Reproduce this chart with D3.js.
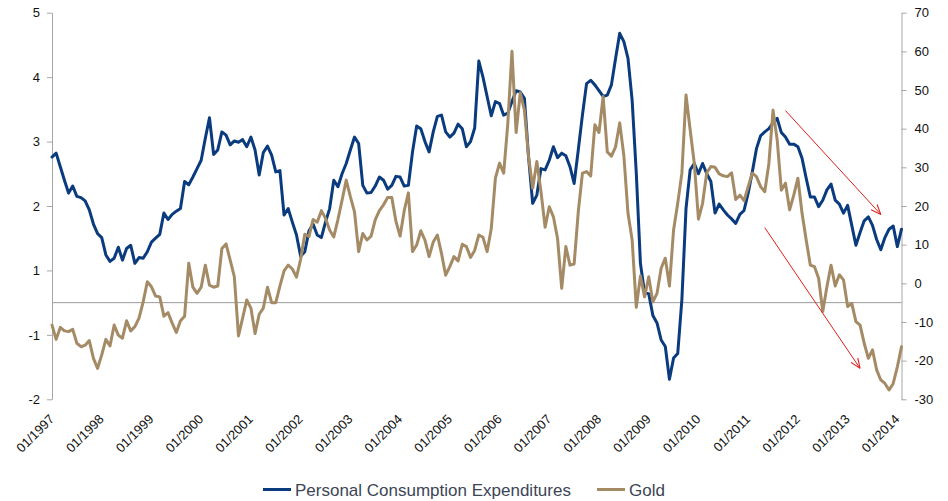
<!DOCTYPE html>
<html>
<head>
<meta charset="utf-8">
<script src="https://cdn.jsdelivr.net/npm/d3@7/dist/d3.min.js"></script>
<style>
  html, body { margin: 0; padding: 0; background: #fff; }
  svg { display: block; font-family: "Liberation Sans", Arial, sans-serif; }
</style>
</head>
<body>
<svg id="chart" width="948" height="501"></svg>
<script>
// ---------- DATA ----------
const startMonth = new Date(1997, 0, 1);
const endMonthExclusive = new Date(2014, 2, 1); // through Feb 2014
const months = d3.timeMonth.range(startMonth, endMonthExclusive);
const categories = months.map(d3.timeFormat("%m/%Y"));

const pce = [
  2.76, 2.82, 2.61, 2.40, 2.20, 2.31, 2.15, 2.13, 2.08, 1.94, 1.72, 1.57,
  1.51, 1.24, 1.14, 1.19, 1.36, 1.16, 1.34, 1.39, 1.11, 1.20, 1.19, 1.29,
  1.44, 1.50, 1.56, 1.89, 1.79, 1.87, 1.92, 1.96, 2.38, 2.33, 2.45, 2.58,
  2.71, 3.05, 3.37, 2.80, 2.87, 3.15, 3.10, 2.95, 3.01, 2.99, 3.03, 2.92,
  3.07, 2.87, 2.48, 2.83, 2.93, 2.79, 2.53, 2.55, 1.86, 1.96, 1.75, 1.55,
  1.22, 1.29, 1.61, 1.72, 1.55, 1.51, 1.75, 1.96, 2.40, 2.30, 2.50, 2.66,
  2.87, 3.07, 2.97, 2.32, 2.20, 2.21, 2.31, 2.45, 2.40, 2.26, 2.32, 2.46,
  2.45, 2.31, 2.32, 2.84, 3.24, 3.20, 3.00, 2.84, 3.15, 3.39, 3.41, 3.15,
  3.07, 3.13, 3.27, 3.20, 2.92, 3.00, 3.21, 4.25, 4.00, 3.70, 3.40, 3.62,
  3.59, 3.41, 3.44, 3.62, 3.79, 3.77, 3.67, 2.76, 2.04, 2.17, 2.58, 2.56,
  2.71, 2.92, 2.75, 2.82, 2.78, 2.61, 2.35, 2.87, 3.41, 3.90, 3.95, 3.88,
  3.79, 3.70, 3.72, 3.88, 4.29, 4.68, 4.55, 4.29, 3.64, 2.51, 1.11, 0.30,
  0.28, -0.40, -0.63, -1.08, -1.18, -1.69, -1.36, -1.29, 0.09, 1.96, 2.56, 2.66,
  2.50, 2.66, 2.50, 2.38, 1.89, 2.03, 1.94, 1.86, 1.80, 1.73, 1.87, 1.93,
  2.20, 2.53, 2.89, 3.09, 3.15, 3.20, 3.29, 3.36, 3.14, 3.07, 2.96, 2.96,
  2.92, 2.74, 2.43, 2.14, 2.14, 1.99, 2.09, 2.25, 2.34, 2.09, 2.03, 1.89,
  2.01, 1.70, 1.39, 1.59, 1.77, 1.83, 1.70, 1.48, 1.32, 1.51, 1.64, 1.69,
  1.37, 1.64
];

const gold = [
  -10.8, -14.5, -11.4, -12.3, -12.5, -11.9, -15.5, -16.4, -16.0, -14.8, -19.4, -22.0,
  -18.5, -14.5, -16.2, -10.8, -13.4, -14.2, -9.7, -12.3, -11.2, -9.0, -4.8, 0.4,
  -0.9, -3.3, -3.5, -8.5, -7.6, -10.3, -12.7, -9.7, -8.5, 5.2, -1.0, -2.6,
  -1.0, 4.7, -0.5, -1.0, -0.7, 9.0, 10.2, 6.0, 1.7, -13.6, -9.0, -4.3,
  -6.4, -13.0, -8.0, -6.4, -1.0, -5.0, -5.0, -0.7, 3.2, 4.7, 3.7, 1.6,
  6.2, 12.7, 12.1, 16.5, 15.8, 18.8, 16.8, 13.8, 12.0, 16.5, 21.5, 26.7,
  22.4, 18.5, 8.2, 12.9, 11.2, 12.2, 16.4, 18.8, 20.3, 22.2, 22.2, 16.0,
  12.2, 18.8, 23.4, 8.2, 9.9, 13.6, 11.2, 6.9, 10.7, 12.5, 7.7, 2.1,
  4.3, 6.9, 5.8, 10.1, 9.5, 6.7, 8.5, 12.5, 11.9, 8.2, 14.1, 27.2,
  31.1, 28.5, 41.4, 60.0, 39.0, 49.3, 44.8, 32.8, 24.6, 31.5, 23.7, 14.5,
  19.8, 17.2, 11.6, -1.3, 9.5, 4.7, 5.0, 18.5, 28.5, 28.9, 27.8, 41.0,
  39.0, 48.3, 34.0, 32.9, 35.3, 41.5, 33.0, 18.1, 11.2, -6.2, 1.9, -3.5,
  1.7, -4.8, -2.6, 3.9, 6.5, -0.7, 13.8, 20.7, 28.5, 48.7, 39.7, 31.0,
  16.6, 20.7, 28.6, 30.2, 30.0, 28.3, 27.8, 27.6, 28.6, 21.7, 22.8, 21.4,
  25.0, 28.5, 27.6, 25.0, 23.7, 31.0, 44.8, 37.1, 24.1, 25.9, 19.0, 22.8,
  27.2, 18.1, 11.2, 4.7, 4.3, 1.3, -7.3, -0.9, 4.7, -0.7, 2.2, 0.9,
  -6.0, -5.2, -9.9, -10.8, -15.5, -19.4, -17.2, -22.4, -25.0, -25.9, -27.6, -25.9,
  -21.6, -16.4
];

const xTickLabels = ["01/1997","01/1998","01/1999","01/2000","01/2001","01/2002",
  "01/2003","01/2004","01/2005","01/2006","01/2007","01/2008","01/2009",
  "01/2010","01/2011","01/2012","01/2013","01/2014"];
const leftTicks = [5, 4, 3, 2, 1, -1, -2];
const rightTicks = [70, 60, 50, 40, 30, 20, 10, 0, -10, -20, -30];
const seriesNames = ["Personal Consumption Expenditures", "Gold"];

// trend arrows: start/end as [category, value]
const arrowPce  = { from: ["10/2011", 3.48], to: ["09/2013", 1.87] };
const arrowGold = { from: ["05/2011", 14.4], to: ["04/2013", -22.0] };

// ---------- LAYOUT ----------
const svg = d3.select("#chart");
const plotLeft = 52, plotRight = 901.5, plotTop = 12.7, plotBottom = 399.3;
const step = (plotBottom - plotTop) / 6;
const colPce = "#0a3b7e", colGold = "#a58b65", axisCol = "#a6a6a6";

const x = d3.scalePoint().domain(categories).range([plotLeft, plotRight]);
// left axis as drawn: -2, -1, (0 midway), 1 ... 5 evenly spaced labels
const yL = d3.scaleLinear().domain([-2, -1, 1, 5])
  .range([plotBottom, plotBottom - step, plotBottom - 2 * step, plotTop]);
const yR = d3.scaleLinear().domain([-30, 70]).range([plotBottom, plotTop]);

// zero line
svg.append("line")
  .attr("x1", plotLeft).attr("x2", plotRight)
  .attr("y1", yL(0)).attr("y2", yL(0))
  .attr("stroke", "#9a9a9a").attr("stroke-width", 1);

const fmt = d => String(d);
// left axis
const gL = svg.append("g").attr("transform", `translate(${plotLeft},0)`)
  .call(d3.axisLeft(yL).tickValues(leftTicks).tickFormat(fmt)
    .tickSize(5).tickSizeOuter(0).tickPadding(7));
// right axis
const gR = svg.append("g").attr("transform", `translate(${plotRight},0)`)
  .call(d3.axisRight(yR).tickValues(rightTicks).tickFormat(fmt)
    .tickSize(5).tickSizeOuter(0).tickPadding(8));
[gL, gR].forEach(g => {
  g.select(".domain").attr("stroke", axisCol);
  g.selectAll(".tick line").attr("stroke", axisCol);
  g.selectAll(".tick text").attr("fill", "#111").style("font-size", "13px")
    .style("font-family", '"Liberation Sans", Arial, sans-serif');
});

// x labels
svg.append("g").selectAll("text").data(xTickLabels).join("text")
  .attr("transform", d => `translate(${x(d) + 3},420) rotate(-45)`)
  .attr("text-anchor", "end")
  .attr("fill", "#111")
  .style("font-size", "13px")
  .text(d => d);

// lines
const linePce = d3.line().x((d, i) => x(categories[i])).y(d => yL(d));
const lineGold = d3.line().x((d, i) => x(categories[i])).y(d => yR(d));

svg.append("path").datum(pce)
  .attr("d", linePce).attr("fill", "none")
  .attr("stroke", colPce).attr("stroke-width", 3)
  .attr("stroke-linejoin", "round").attr("stroke-linecap", "round");
svg.append("path").datum(gold)
  .attr("d", lineGold).attr("fill", "none")
  .attr("stroke", colGold).attr("stroke-width", 3)
  .attr("stroke-linejoin", "round").attr("stroke-linecap", "round");

// arrows
svg.append("defs").append("marker")
  .attr("id", "arrowhead").attr("viewBox", "0 0 10 10")
  .attr("refX", 10).attr("refY", 5)
  .attr("markerWidth", 10).attr("markerHeight", 10)
  .attr("markerUnits", "userSpaceOnUse")
  .attr("orient", "auto")
  .append("path").attr("d", "M0,1 L10,5 L0,9")
  .attr("fill", "none").attr("stroke", "#e0201c").attr("stroke-width", 1.1);

function drawArrow(a, yScale) {
  svg.append("line")
    .attr("x1", x(a.from[0])).attr("y1", yScale(a.from[1]))
    .attr("x2", x(a.to[0])).attr("y2", yScale(a.to[1]))
    .attr("stroke", "#e0201c").attr("stroke-width", 1)
    .attr("marker-end", "url(#arrowhead)");
}
drawArrow(arrowPce, yL);
drawArrow(arrowGold, yR);

// legend
const legend = svg.append("g").style("font-size", "17px");
const legItems = [
  { name: seriesNames[0], color: colPce, x0: 263 },
  { name: seriesNames[1], color: colGold, x0: 597 }
];
legItems.forEach(it => {
  legend.append("line").attr("x1", it.x0).attr("x2", it.x0 + 28)
    .attr("y1", 489.5).attr("y2", 489.5)
    .attr("stroke", it.color).attr("stroke-width", 3);
  legend.append("text").attr("x", it.x0 + 32).attr("y", 495.5)
    .attr("fill", "#3c4556").text(it.name);
});
</script>
</body>
</html>
